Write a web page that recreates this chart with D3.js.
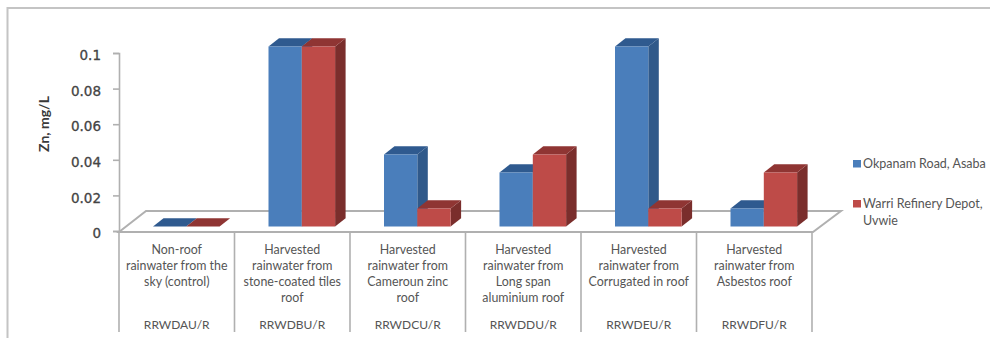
<!DOCTYPE html>
<html>
<head>
<meta charset="utf-8">
<script src="https://cdn.jsdelivr.net/npm/d3@7/dist/d3.min.js"></script>
<style>
html,body{margin:0;padding:0;background:#fff;}
svg{display:block;}
text{font-family:Lato,"Open Sans",sans-serif;}
</style>
</head>
<body>
<svg id="chart" width="990" height="338"></svg>
<script>
const codes = ["RRWDAU/R","RRWDBU/R","RRWDCU/R","RRWDDU/R","RRWDEU/R","RRWDFU/R"];
const categoryLines = [
  ["Non-roof","rainwater from the","sky (control)"],
  ["Harvested","rainwater from","stone-coated tiles","roof"],
  ["Harvested","rainwater from","Cameroun zinc","roof"],
  ["Harvested","rainwater from","Long span","aluminium roof"],
  ["Harvested","rainwater from","Corrugated in roof"],
  ["Harvested","rainwater from","Asbestos roof"]
];
const okpanam = [0,0.1,0.04,0.03,0.1,0.01];
const warri = [0,0.1,0.01,0.04,0.01,0.03];
const seriesNames = ["Okpanam Road, Asaba","Warri Refinery Depot,"];
const yTicks = [0,0.02,0.04,0.06,0.08,0.1];

const svg = d3.select("#chart");
const gray = "#b0b0b0";
const labelColor = "#555";

// Outer frame: left and top edges only
svg.append("path").attr("d","M7.5,338V8H990").attr("fill","none").attr("stroke","#c4c4c4").attr("stroke-width",2);

const y = d3.scaleLinear().domain([0,0.1]).range([231,53]);
const yFront = d3.scaleLinear().domain([0,0.1]).range([226.5,46.5]);
const x = d3.scaleBand().domain(d3.range(codes.length)).range([119,812]);
const depthX = 10.5, depthY = 8.3;
const barW = 33.3;

// Floor of the 3-D plot
const floorBack = 211, floorFront = 232, floorSkew = 27;
svg.append("path")
  .attr("d",`M${x.range()[0]},${floorFront}L${x.range()[0]+floorSkew},${floorBack}H${x.range()[1]+floorSkew+2}L${x.range()[1]+1},${floorFront}Z`)
  .attr("fill","#fff").attr("stroke",gray).attr("stroke-width",2);

// Value axis
const yAxis = d3.axisLeft(y).tickValues(yTicks).tickFormat(d3.format("~g")).tickSize(6).tickPadding(12);
const yG = svg.append("g").attr("transform","translate(119,0)").call(yAxis);
yG.selectAll("path,line").attr("stroke",gray).attr("stroke-width",1.6);
yG.selectAll("text").style("font-family","'DejaVu Sans'").attr("font-size",13.5).attr("dy","0.5em")
  .attr("fill","#444").attr("stroke","#444").attr("stroke-width",0.3);

svg.append("text").attr("transform","translate(49,124) rotate(-90)")
  .attr("text-anchor","middle").attr("font-size",14).attr("font-weight",700).attr("fill","#3a3a3a").text("Zn, mg/L");

// Category table lines
[...x.domain().map(i => x(i)), x.range()[1]].forEach(px => {
  svg.append("line").attr("x1",px).attr("x2",px).attr("y1",232).attr("y2",332).attr("stroke",gray).attr("stroke-width",1.6);
});

// One 3-D column: front face, top and side
function column(g, x0, value, colors){
  const top = yFront(value), base = yFront(0);
  g.append("path").attr("fill",colors.side)
    .attr("d",`M${x0+barW},${top}L${x0+barW+depthX},${top-depthY}V${base-depthY}L${x0+barW},${base}Z`);
  g.append("path").attr("fill",colors.top)
    .attr("d",`M${x0},${top}L${x0+depthX},${top-depthY}H${x0+barW+depthX}L${x0+barW},${top}Z`);
  g.append("rect").attr("x",x0).attr("y",top).attr("width",barW).attr("height",base-top).attr("fill",colors.front);
}
const blue = {front:"#4a7ebb",top:"#2f5a8f",side:"#30598a"};
const red = {front:"#be4b48",top:"#8f3533",side:"#7a2e2c"};

const bars = svg.append("g");
x.domain().forEach(i => {
  const x0 = x(i) + 34;
  column(bars, x0, okpanam[i], blue);
  column(bars, x0 + barW, warri[i], red);
});

// Category labels
x.domain().forEach(i => {
  const cx = x(i) + x.bandwidth()/2;
  categoryLines[i].forEach((s,k) => {
    svg.append("text").attr("x",cx).attr("y",254+k*16).attr("text-anchor","middle")
      .attr("font-size",12.4).attr("fill",labelColor).text(s);
  });
  svg.append("text").attr("x",cx).attr("y",329).attr("text-anchor","middle")
    .attr("font-size",12).attr("fill",labelColor).text(codes[i]);
});

// Legend
const legend = svg.append("g");
[[160,blue.front,seriesNames[0],168],[200,red.front,seriesNames[1],208]].forEach(d => {
  legend.append("rect").attr("x",853).attr("y",d[0]).attr("width",8).attr("height",7.5).attr("fill",d[1]);
  legend.append("text").attr("x",863).attr("y",d[3]).attr("font-size",12.5).attr("fill",labelColor).text(d[2]);
});
legend.append("text").attr("x",863).attr("y",225).attr("font-size",12.5).attr("fill",labelColor).text("Uvwie");
</script>
</body>
</html>
